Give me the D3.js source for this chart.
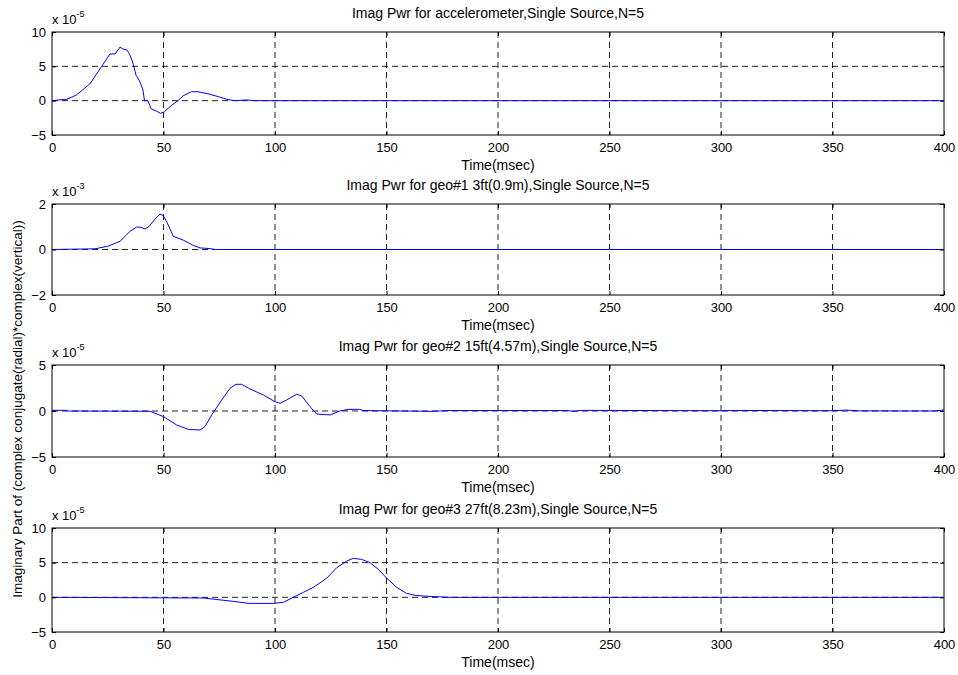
<!DOCTYPE html>
<html>
<head>
<meta charset="utf-8">
<script src="https://cdn.jsdelivr.net/npm/d3@7"></script>
<style>
  body { margin: 0; background: #fff; }
  svg { font-family: "Liberation Sans", Arial, sans-serif; }
</style>
</head>
<body>
<div id="chart"></div>
<script>
// time axis ticks (msec) shared by all panels
const xTicks = [0, 50, 100, 150, 200, 250, 300, 350, 400];

// panel 1: accelerometer, values x 1e-5
const accT = [0, 3, 6.7, 11, 17, 22.3, 26, 28.3, 30.5, 32, 33.5, 34.6, 36.2, 37.7, 39.2, 40.7, 41.5, 43, 44.5, 46.7, 48.7, 50.5, 53.5, 56.5, 58.8, 62.5, 65.5, 70, 74.4, 78.9, 82, 87, 91, 400];
const accV = [0, 0.1, 0.2, 0.83, 2.45, 5.0, 6.8, 6.8, 7.8, 7.5, 7.4, 6.9, 5.6, 3.7, 2.9, 1.7, 0, 0, -1.2, -1.5, -1.85, -1.6, -0.7, 0, 0.7, 1.3, 1.3, 1.0, 0.6, 0.15, 0, 0.1, 0, 0];

// panel 2: geo#1, values x 1e-3
const geo1T = [0, 19.3, 25.3, 30.5, 35, 38, 39.8, 41.7, 43.6, 46.2, 48.4, 49.9, 51.7, 54.4, 58.9, 63.4, 66.4, 70.9, 73, 400];
const geo1V = [0, 0.03, 0.15, 0.36, 0.8, 0.99, 0.98, 0.9, 1.02, 1.34, 1.56, 1.49, 1.17, 0.58, 0.41, 0.18, 0.07, 0.04, 0, 0];

// panel 3: geo#2, values x 1e-5
const geo2T = [0, 6.6, 7.3, 44, 49.9, 55.9, 61.1, 66.4, 68.6, 71.6, 76.1, 79.8, 82.5, 85, 88.8, 94.8, 100, 102.3, 105.2, 109.7, 112, 115.7, 118.7, 124.7, 129, 132.9, 138, 139.5, 171, 177, 231, 234, 237, 300, 310, 350, 356, 362, 395, 400];
const geo2V = [0.07, 0.07, 0, -0.03, -0.6, -1.52, -2.0, -2.07, -1.7, -0.43, 1.2, 2.46, 2.9, 2.9, 2.39, 1.74, 1.01, 0.83, 1.2, 1.81, 1.63, 0.47, -0.33, -0.43, 0.0, 0.18, 0.18, 0.05, -0.04, 0.05, 0.05, -0.05, 0.07, 0.03, 0.06, 0.03, 0.1, 0.02, 0.0, 0.1];

// panel 4: geo#3, values x 1e-5
const geo3T = [0, 67.9, 81.3, 88, 99.2, 103.7, 106.7, 112.7, 117.2, 123.2, 127.7, 132.2, 135.1, 138.8, 142.6, 146.3, 150.1, 154.6, 159, 162.8, 166.5, 178.5, 400];
const geo3V = [0, -0.1, -0.58, -0.87, -0.87, -0.72, -0.24, 0.72, 1.43, 2.76, 4.29, 5.24, 5.62, 5.48, 5.0, 4.05, 2.76, 1.43, 0.57, 0.29, 0.19, 0, 0];

const panels = [
  {title: "Imag Pwr for accelerometer,Single Source,N=5", exp: "-5", t: accT, v: accV, yDomain: [-5, 10], yTicks: [-5, 0, 5, 10], top: 32, bottom: 135},
  {title: "Imag Pwr for geo#1 3ft(0.9m),Single Source,N=5", exp: "-3", t: geo1T, v: geo1V, yDomain: [-2, 2], yTicks: [-2, 0, 2], top: 204, bottom: 295},
  {title: "Imag Pwr for geo#2 15ft(4.57m),Single Source,N=5", exp: "-5", t: geo2T, v: geo2V, yDomain: [-5, 5], yTicks: [-5, 0, 5], top: 365, bottom: 457},
  {title: "Imag Pwr for geo#3 27ft(8.23m),Single Source,N=5", exp: "-5", t: geo3T, v: geo3V, yDomain: [-5, 10], yTicks: [-5, 0, 5, 10], top: 528, bottom: 632}
];

const width = 958, height = 675;
const left = 52, right = 944;
const fs = "13px";      // tick labels
const fsLabel = "14px"; // titles and axis labels

const svg = d3.select("#chart")
  .append("svg")
    .attr("width", width)
    .attr("height", height);

const x = d3.scaleLinear()
  .domain([0, 400])
  .range([left, right]);

panels.forEach(function(p) {
  const y = d3.scaleLinear()
    .domain(p.yDomain)
    .range([p.bottom, p.top]);

  const g = svg.append("g");

  // grid lines (dashed), skip the ones on the box edges
  g.selectAll(".vgrid")
    .data(xTicks.slice(1, -1))
    .join("line")
      .attr("x1", d => x(d)).attr("x2", d => x(d))
      .attr("y1", p.top).attr("y2", p.bottom)
      .attr("stroke", "#222")
      .attr("stroke-width", 1)
      .attr("stroke-dasharray", "6,4");

  g.selectAll(".hgrid")
    .data(p.yTicks.slice(1, -1))
    .join("line")
      .attr("x1", left).attr("x2", right)
      .attr("y1", d => y(d)).attr("y2", d => y(d))
      .attr("stroke", "#222")
      .attr("stroke-width", 1)
      .attr("stroke-dasharray", "6,4");

  // the data line
  const line = d3.line()
    .x((d, i) => x(p.t[i]))
    .y(d => y(d));

  g.append("path")
    .datum(p.v)
    .attr("d", line)
    .attr("fill", "none")
    .attr("stroke", "#0000ff")
    .attr("stroke-width", 1);

  // box
  g.append("rect")
    .attr("x", left).attr("y", p.top)
    .attr("width", right - left).attr("height", p.bottom - p.top)
    .attr("fill", "none")
    .attr("stroke", "#000")
    .attr("stroke-width", 1);

  // axes with inward ticks
  const xAxis = g.append("g")
    .attr("transform", `translate(0, ${p.bottom})`)
    .call(d3.axisBottom(x).tickValues(xTicks).tickSize(-4).tickPadding(8).tickFormat(d3.format("d")));
  const yAxis = g.append("g")
    .attr("transform", `translate(${left}, 0)`)
    .call(d3.axisLeft(y).tickValues(p.yTicks).tickSize(-4).tickPadding(6).tickFormat(d3.format("d")));
  [xAxis, yAxis].forEach(function(a) {
    a.select(".domain").remove();
    a.selectAll("line").attr("stroke", "#000");
    a.selectAll("text")
      .attr("fill", "#000")
      .style("font-size", fs)
      .style("font-family", "Liberation Sans, Arial, sans-serif");
  });

  // top / right ticks
  g.append("g")
    .attr("transform", `translate(0, ${p.top})`)
    .call(d3.axisTop(x).tickValues(xTicks).tickSize(-4).tickFormat(""))
    .call(a => a.select(".domain").remove());
  g.append("g")
    .attr("transform", `translate(${right}, 0)`)
    .call(d3.axisRight(y).tickValues(p.yTicks).tickSize(-4).tickFormat(""))
    .call(a => a.select(".domain").remove());

  // title
  g.append("text")
    .attr("x", (left + right) / 2)
    .attr("y", p.top - 14)
    .attr("text-anchor", "middle")
    .style("font-size", fsLabel)
    .text(p.title);

  // x label
  g.append("text")
    .attr("x", (left + right) / 2)
    .attr("y", p.bottom + 35)
    .attr("text-anchor", "middle")
    .style("font-size", fsLabel)
    .text("Time(msec)");

  // exponent
  const ex = g.append("text")
    .attr("x", left)
    .attr("y", p.top - 8)
    .style("font-size", fs);
  ex.append("tspan").text("x 10");
  ex.append("tspan")
    .attr("dy", -7)
    .style("font-size", "9px")
    .text(p.exp);
});

// shared y label
svg.append("text")
  .attr("transform", "translate(22, 409) rotate(-90)")
  .attr("text-anchor", "middle")
  .style("font-size", "13.5px")
  .text("Imaginary Part of (complex conjugate(radial)*complex(vertical))");
</script>
</body>
</html>
